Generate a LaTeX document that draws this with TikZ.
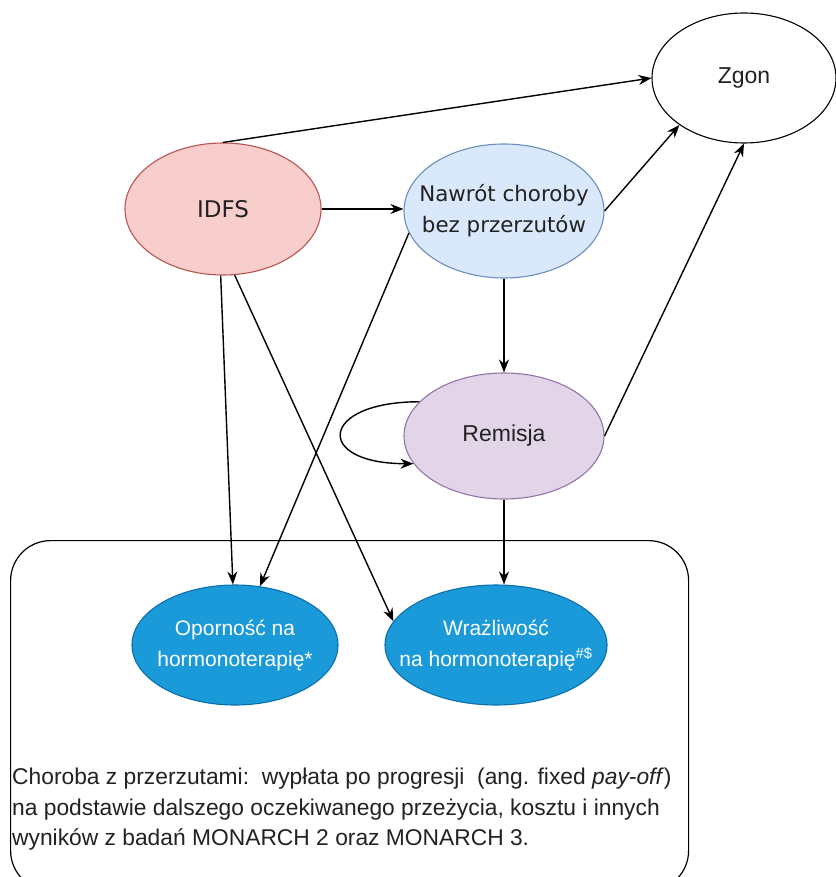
\documentclass[tikz,border=0pt]{standalone}
\usepackage{fontspec}
\setmainfont{Liberation Sans}
\newfontfamily\dejavu{DejaVu Sans}
\usetikzlibrary{shapes.geometric,arrows.meta}
\definecolor{redfill}{HTML}{F8CECC}
\definecolor{redline}{HTML}{B85450}
\definecolor{bluefill}{HTML}{DAE8FC}
\definecolor{blueline}{HTML}{6C8EBF}
\definecolor{purfill}{HTML}{E1D5E7}
\definecolor{purline}{HTML}{9673A6}
\definecolor{deepfill}{HTML}{1B9AD9}
\definecolor{deepline}{HTML}{0B6FAE}
\definecolor{txt}{HTML}{222222}
\tikzset{
  state/.style={ellipse, draw, line width=1.1pt, inner sep=0pt},
  txtA/.style={align=center, text=txt, inner sep=0pt, font=\fontsize{23}{27}\selectfont},
  txtB/.style={align=center, text=txt, inner sep=0pt, font=\dejavu\fontsize{23}{27}\selectfont},
  txtC/.style={align=center, text=txt, inner sep=0pt, font=\dejavu\fontsize{21.4}{31}\selectfont},
  txtD/.style={align=center, text=white, inner sep=0pt, font=\fontsize{21}{31}\selectfont},
  conn/.style={line width=1.4pt, -{Stealth[length=13pt,width=10pt]}},
}
\begin{document}
\begin{tikzpicture}[x=1pt,y=-1pt]
\useasboundingbox (0,0) rectangle (835,877);
\fill[white] (0,0) rectangle (835,877);
\begin{scope}
\clip (0,0) rectangle (835,877);
\node[draw, line width=1.2pt, rounded corners=40pt, minimum width=678pt, minimum height=350pt, anchor=north west] (box) at (10,540) {};
\end{scope}
\node[state, fill=white, draw=black, minimum width=184pt, minimum height=130pt, label={[txtA]center:Zgon}] (zgon) at (744,78) {};
\node[state, fill=redfill, draw=redline, minimum width=196pt, minimum height=132pt, label={[txtB]center:IDFS}] (idfs) at (223,209) {};
\node[state, fill=bluefill, draw=blueline, minimum width=200pt, minimum height=134pt, label={[txtC]center:{Nawrót choroby\\bez przerzutów}}] (nawrot) at (504,211) {};
\node[state, fill=purfill, draw=purline, minimum width=200pt, minimum height=126pt, label={[txtA]center:Remisja}] (rem) at (504,436) {};
\node[state, fill=deepfill, draw=deepline, minimum width=206pt, minimum height=120pt, label={[txtD]center:{Oporność na\\hormonoterapię*}}] (opor) at (235,645) {};
\node[state, fill=deepfill, draw=deepline, minimum width=222pt, minimum height=120pt, label={[txtD]center:{Wrażliwość\\na hormonoterapię\textsuperscript{\#\$}}}] (wraz) at (496,645) {};
\node[anchor=north west, align=left, inner sep=0pt, text=txt, font=\fontsize{22.8}{30.5}\selectfont] (desc) at (12,768) {Choroba z przerzutami:\ \ wypłata po progresji\ \ (ang. fixed \textit{pay-off})\\na podstawie dalszego oczekiwanego przeżycia, kosztu i innych\\wyników z badań MONARCH 2 oraz MONARCH 3.};
\draw[conn] (idfs.north) -- (zgon.west);
\draw[conn] (idfs.east) -- (idfs.east -| nawrot.west);
\draw[conn] (nawrot.east) -- (zgon.216);
\draw[conn] (rem.east) -- (zgon.south);
\draw[conn] (nawrot.south) -- (rem.north);
\draw[conn] (rem.158) .. controls +(-100,0) and +(-100,0) .. (rem.197);
\draw[conn] (idfs.268) -- (opor.92);
\draw[conn] (idfs.280) -- (wraz.167);
\draw[conn] (nawrot.193) -- (opor.67);
\draw[conn] (rem.south) -- (rem.south |- wraz.north);
\end{tikzpicture}
\end{document}
